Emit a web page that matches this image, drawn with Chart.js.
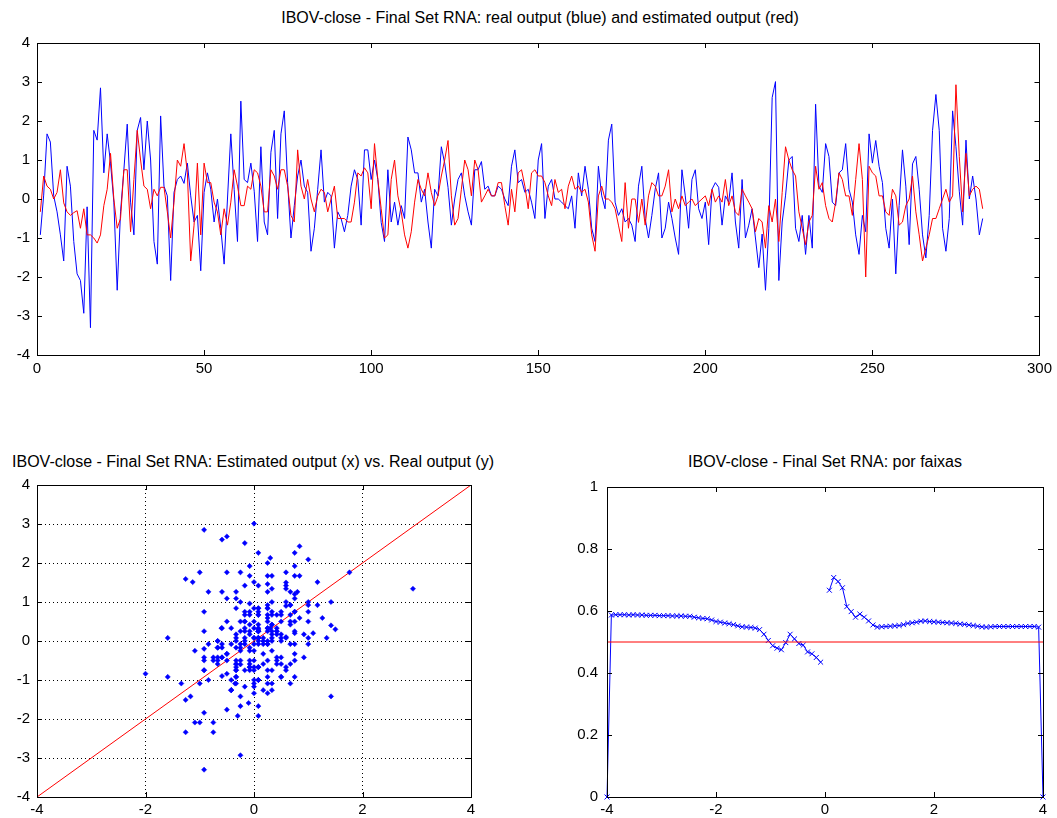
<!DOCTYPE html>
<html lang="en">

<head>
    <title>IBOV-close - Final Set RNA</title>
    <meta charset="utf-8">
    <script src="https://cdn.jsdelivr.net/npm/chart.js"></script>
    <style>
        body {
            margin: 0;
            background: #fff;
            width: 1057px;
            height: 818px;
            position: relative;
            overflow: hidden;
            font-family: 'Liberation Sans', Arial, sans-serif;
        }

        .box {
            position: absolute;
        }

        .title {
            position: absolute;
            font-size: 16px;
            line-height: 18px;
            color: #000;
            white-space: nowrap;
            transform: translateX(-50%);
        }
    </style>
</head>

<body>
    <!-- Top: real vs estimated series -->
    <div class="title" style="left:540px; top:9px;">IBOV-close - Final Set RNA: real output (blue) and estimated output (red)</div>
    <div class="box" style="left:0; top:27px;">
        <canvas id="seriesChart" width="1057" height="363"></canvas>
    </div>

    <!-- Bottom left: scatter -->
    <div class="title" style="left:253px; top:453px;">IBOV-close - Final Set RNA: Estimated output (x) vs. Real output (y)</div>
    <div class="box" style="left:0; top:469px;">
        <canvas id="scatterChart" width="490" height="349"></canvas>
    </div>

    <!-- Bottom right: por faixas -->
    <div class="title" style="left:825px; top:453px;">IBOV-close - Final Set RNA: por faixas</div>
    <div class="box" style="left:560px; top:469px;">
        <canvas id="bandChart" width="497" height="349"></canvas>
    </div>

    <script>
        // real output (blue), samples 1..283
        const realOutput = [
            -0.92, 0.1, 1.67, 1.46, 0.08, -0.33, -0.92, -1.59, 0.84, 0.33,
            -1.09, -1.92, -2.09, -2.93, -0.2, -3.3, 1.76, 1.51, 2.85, 0.67,
            1.67, 0.92, -0.08, -2.34, -0.33, 0.75, 1.92, -0.08, -0.92, 1.76,
            2.09, 0.75, 2.0, 1.0, -1.09, -1.67, 2.13, 0.33, 0.08, -2.09,
            0.17, 0.5, 0.59, 0.4, 0.92, 0.08, -0.59, -0.42, -1.84, 0.17,
            0.67, 0.25, -0.59, 0, -0.75, -1.67, 0.0, 1.67, 0.25, -1.09,
            2.51, 0.5, 0.42, 0.92, 0.2, -1.09, 1.34, -0.59, -0.92, 1.2,
            1.76, -0.5, 1.67, 2.26, 0.42, -1.0, -0.17, 0.59, 1.0, 0.33,
            0.17, -1.34, -0.75, 0.25, 1.26, -0.08, 0.17, 0.08, -1.26, -0.33,
            -0.5, -0.84, -0.42, 0.33, 0.75, 0.5, -0.67, 1.26, 1.26, 0.5,
            1.0, 0.5, -0.6, -1.09, 0.75, -0.59, -0.08, -0.67, -0.17, -0.5,
            1.59, 1.26, 0.67, 0.67, -0.08, 0.25, -0.59, -1.26, 0.25, 0.08,
            1.34, 0.92, 0.3, -0.67, 0, 0.5, 0.67, 0.08, -0.33, -0.67,
            0.75, 0.75, 0.96, 0.25, 0.33, 0.08, 0.08, 0.33, 0.25, 0,
            -0.17, 0.84, 1.26, 0.42, 0.5, 0.17, 0.25, -0.08, -0.5, 1.0,
            1.42, -0.5, 0.33, 0.5, 0, 0, -0.08, -0.17, -0.25, 0.08,
            -0.75, 0.67, 0.08, 0.84, 0.25, -0.75, -1.09, 0.84, 0.08, -0.25,
            1.51, 1.92, -0.08, -0.42, -0.25, -0.59, -0.5, -0.67, -1.09, 0.33,
            0.84, -0.5, -1.0, -0.42, 0.25, 0.67, -1.0, -0.75, -0.08, -0.5,
            -1.0, -1.42, 0.75, 0.08, -0.75, 0.5, 0.75, -0.25, -0.5, -0.08,
            -1.17, 0.25, 0.42, 0.3, -0.67, 0.08, -0.08, 0.67, -0.59, -1.26,
            0.5, -1.0, -0.67, -0.25, -1.0, -1.76, -0.9, -2.34, -0.75, 2.6,
            3.01, -2.09, -0.59, 0.08, 1.0, 1.09, -0.75, -1.09, -0.42, -1.42,
            -0.42, -1.26, 2.43, 0.33, 0.17, 1.42, 1.09, -0.08, -0.17, 0.67,
            0.75, 1.42, 0.25, -0.08, -0.92, -1.42, -0.42, -0.84, 1.67, 0.92,
            1.5, 0.84, 0.42, -0.75, -1.26, 0, -1.92, -0.17, 1.26, 0.33,
            -1.17, 0.9, 1.09, 0.25, -0.92, -1.51, -0.42, 1.76, 2.68, 1.76,
            -0.75, -1.34, -0.5, 2.26, 1.34, 0.2, -0.67, 1.51, 0, 0.59,
            0, -0.92, -0.5
        ];

        // estimated output (red), samples 1..283
        const estOutput = [
            -0.33, 0.59, 0.33, 0.25, 0, 0.17, 0.75, -0.1, -0.33, -0.42,
            -0.35, -0.3, -0.75, -0.25, -0.92, -0.92, -1.0, -1.13, -0.92, -0.17,
            0.25, 1.17, 0, -0.75, -0.5, 0.75, 0.75, -0.84, 0.5, 1.76,
            1.0, 0.33, 0.25, -0.25, 0.25, 0.08, 0.3, 0.3, -0.33, -1.0,
            -0.08, 1.0, 0.84, 1.42, 0.67, -1.59, -0.67, 0.92, -0.92, 0.92,
            0.42, 0.42, -0.08, -0.33, -0.92, -0.25, -0.67, -0.08, 0.75, 0.33,
            -0.17, -0.17, 0.33, 0.25, 0.75, 0.67, 0.33, -0.33, -0.33, 0.75,
            0.59, 0.25, 0.75, 0.75, 0.33, -0.42, -0.59, 1.26, 0.33, 0,
            0.5, 0, -0.33, 0.08, 0.25, 0.17, -0.33, 0, 0.33, -0.5,
            -0.5, -0.5, -0.59, -0.59, -0.08, 0.67, 0.59, 0.8, 0.67, -0.25,
            1.42, 0.5, -0.25, -1.0, -0.92, 0.5, 1.0, 0.08, -0.33, -0.92,
            -1.26, -0.84, -0.08, 0.5, 0.25, 0.08, 0.67, 0.17, -0.17, 0.08,
            0.59, 1.0, 1.5, 0.08, -0.67, -0.5, 0.25, 1.0, 0.75, 0.08,
            1.0, 0.75, -0.08, 0.08, 0.25, 0.08, 0.08, 0.42, 0.42, -0.17,
            -0.67, 0.25, -0.33, 0.67, 0.75, 0.33, -0.25, 0.67, 0.75, 0.59,
            0.59, 0.42, 0.08, -0.17, 0.5, 0.17, 0.25, -0.25, 0.33, 0.59,
            0.25, 0.33, 0.17, 0.25, -0.08, -0.92, -1.34, 0.08, 0.33, 0,
            0, -0.08, -0.25, -0.67, -1.09, 0.42, -0.75, 0, 0, -0.6,
            0, -0.67, 0.08, 0.42, 0.33, 0.08, 0.08, 0.33, 0.75, -0.33,
            0, -0.25, 0.08, -0.17, -0.08, 0, -0.17, -0.08, 0, 0.08,
            -0.17, 0.25, -0.08, 0.08, -0.08, 0.5, -0.17, 0.08, -0.33, -0.42,
            0.25, 0.08, -0.08, -0.25, -0.84, -0.5, -0.59, -1.26, -0.17, -0.59,
            0.0, -1.09, 0.17, 1.34, 1.0, 0.75, 0.59, -0.33, -0.75, -1.17,
            -0.59, -0.42, 0.84, 0.25, 0.42, -0.17, -0.5, -0.59, -0.08, 0.67,
            0.5, 0.08, 0.08, -0.42, 0.5, 1.42, 0.5, -2.0, 0.84, 0.67,
            0.59, 0.08, 0.08, -0.33, -0.42, 0.25, 0.08, -0.67, -0.59, -0.17,
            0, 0.59, -0.33, -0.92, -1.59, -1.26, -0.92, -0.5, -0.5, -0.25,
            0, 0.25, -0.08, 0.08, 2.93, 1.09, -0.33, 1.17, 0.08, 0.25,
            0.33, 0.25, -0.25
        ];

        // "por faixas": bands from -4 to 4, step 0.08 (null = empty band)
        const bandStart = -4;
        const bandStep = 0.08;
        const bandValues = [
            0,
            0.587, 0.588, 0.588, 0.588, 0.587, 0.588, 0.587, 0.587, 0.586, 0.586,
            0.586, 0.585, 0.585, 0.585, 0.584, 0.584, 0.584, 0.583, 0.583, 0.580,
            0.578, 0.576, 0.575, 0.571, 0.566, 0.564, 0.561, 0.559, 0.556, 0.552,
            0.549, 0.548, 0.547, 0.545, 0.540, 0.525, 0.505, 0.488, 0.480, 0.475,
            0.498, 0.525, 0.510, 0.495, 0.490, 0.468, 0.462, 0.450, 0.435, null,
            0.667, 0.708, 0.695, 0.675, 0.614, 0.598, 0.580, 0.590, 0.580, 0.568,
            0.555, 0.548, 0.549, 0.550, 0.551, 0.552, 0.553, 0.556, 0.560, 0.562,
            0.564, 0.567, 0.568, 0.566, 0.565, 0.564, 0.563, 0.562, 0.561, 0.560,
            0.558, 0.557, 0.555, 0.553, 0.551, 0.549, 0.548, 0.549, 0.550, 0.550,
            0.550, 0.550, 0.550, 0.550, 0.550, 0.550, 0.550, 0.550, 0.548, 0
        ];

        // reference lines
        const diagX = [-4, 4];
        const diagY = [-4, 4];
        const levelX = [-4, 4];
        const levelY = [0.5, 0.5];

        // tick labels
        const seriesXTicks = [0, 50, 100, 150, 200, 250, 300];
        const seriesYTicks = [-4, -3, -2, -1, 0, 1, 2, 3, 4];
        const scatterXTicks = [-4, -2, 0, 2, 4];
        const scatterYTicks = [-4, -3, -2, -1, 0, 1, 2, 3, 4];
        const bandXTicks = [-4, -2, 0, 2, 4];
        const bandYTicks = [0, 0.2, 0.4, 0.6, 0.8, 1];

        const BLUE = '#0000ff';
        const RED = '#ff0000';
        const axisFont = { family: "'Liberation Sans', Arial, sans-serif", size: 15 };

        // box round the plot area with inward tick marks on all four sides
        const matlabBox = {
            id: 'matlabBox',
            afterDraw(chart) {
                const { ctx, chartArea: a, scales: { x, y } } = chart;
                ctx.save();
                ctx.strokeStyle = '#000';
                ctx.lineWidth = 1;
                ctx.beginPath();
                x.ticks.forEach(t => {
                    const px = Math.round(x.getPixelForValue(t.value)) + 0.5;
                    ctx.moveTo(px, a.bottom); ctx.lineTo(px, a.bottom - 5);
                    ctx.moveTo(px, a.top); ctx.lineTo(px, a.top + 5);
                });
                y.ticks.forEach(t => {
                    const py = Math.round(y.getPixelForValue(t.value)) + 0.5;
                    ctx.moveTo(a.left, py); ctx.lineTo(a.left + 5, py);
                    ctx.moveTo(a.right, py); ctx.lineTo(a.right - 5, py);
                });
                ctx.stroke();
                ctx.strokeRect(Math.round(a.left) + 0.5, Math.round(a.top) + 0.5,
                    Math.round(a.width), Math.round(a.height));
                ctx.restore();
            }
        };

        const makeAxis = (min, max, tickList, size, isX, gridOn, pad) => ({
            type: 'linear',
            min: min,
            max: max,
            afterBuildTicks: (scale) => {
                scale.ticks = tickList.map(v => ({ value: v }));
            },
            afterFit: (scale) => {
                if (isX) scale.height = size; else scale.width = size;
            },
            ticks: {
                color: '#000', font: axisFont, padding: pad, autoSkip: false, maxRotation: 0,
                callback: (v) => String(+Number(v).toFixed(2))
            },
            grid: { display: gridOn, color: '#000', lineWidth: 1, drawTicks: false },
            border: { display: false, dash: [1, 3] }
        });

        const baseOptions = (padding, scales) => ({
            responsive: false,
            devicePixelRatio: 1,
            animation: false,
            layout: { padding: padding },
            plugins: { legend: { display: false }, tooltip: { enabled: false } },
            scales: scales
        });

        const toPoints = (xs, ys) => ys.map((v, i) => ({ x: xs[i], y: v }));
        const sampleIdx = realOutput.map((v, i) => i + 1);
        const bandX = bandValues.map((v, i) => +(bandStart + i * bandStep).toFixed(2));

        // Top chart
        new Chart(document.getElementById('seriesChart').getContext('2d'), {
            type: 'line',
            data: {
                datasets: [
                    { label: 'estimated output', data: toPoints(sampleIdx, estOutput), borderColor: RED, borderWidth: 1, pointRadius: 0, tension: 0 },
                    { label: 'real output', data: toPoints(sampleIdx, realOutput), borderColor: BLUE, borderWidth: 1, pointRadius: 0, tension: 0 }
                ]
            },
            options: baseOptions({ top: 10, right: 14, left: 0, bottom: 0 }, {
                x: makeAxis(0, 300, seriesXTicks, 35, true, false, 5),
                y: makeAxis(-4, 4, seriesYTicks, 37, false, false, 7)
            }),
            plugins: [matlabBox]
        });

        // Bottom left chart
        new Chart(document.getElementById('scatterChart').getContext('2d'), {
            type: 'scatter',
            data: {
                datasets: [
                    {
                        label: 'estimated vs real', data: toPoints(estOutput, realOutput),
                        pointStyle: 'rectRot', pointRadius: 2.6, backgroundColor: BLUE, borderColor: BLUE, borderWidth: 0.5
                    },
                    {
                        type: 'line', label: 'y = x', data: toPoints(diagX, diagY),
                        borderColor: RED, borderWidth: 1, pointRadius: 0, showLine: true
                    }
                ]
            },
            options: baseOptions({ top: 10, right: 19, left: 0, bottom: 0 }, {
                x: makeAxis(-4, 4, scatterXTicks, 21, true, true, 4),
                y: makeAxis(-4, 4, scatterYTicks, 37, false, true, 7)
            }),
            plugins: [matlabBox]
        });

        // Bottom right chart
        new Chart(document.getElementById('bandChart').getContext('2d'), {
            type: 'line',
            data: {
                datasets: [
                    {
                        label: '0.5', data: toPoints(levelX, levelY),
                        borderColor: RED, borderWidth: 1, pointRadius: 0
                    },
                    {
                        label: 'por faixas', data: toPoints(bandX, bandValues),
                        borderColor: BLUE, borderWidth: 1, tension: 0, spanGaps: false, clip: false,
                        pointStyle: 'crossRot', pointRadius: 3.5, pointBorderColor: BLUE, pointBorderWidth: 1
                    }
                ]
            },
            options: baseOptions({ top: 10, right: 14, left: 0, bottom: 0 }, {
                x: makeAxis(-4, 4, bandXTicks, 21, true, false, 4),
                y: makeAxis(0, 1, bandYTicks, 47, false, false, 9)
            }),
            plugins: [matlabBox]
        });
    </script>
</body>

</html>
